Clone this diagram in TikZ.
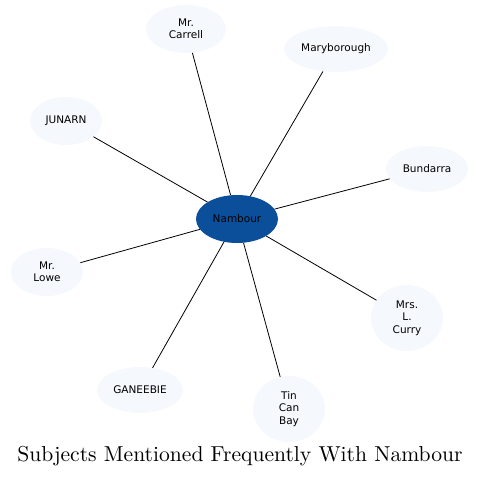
\documentclass[tikz,border=0pt]{standalone}
\usepackage{fontspec}
\newfontfamily\nodefont{DejaVu Sans}
\newfontfamily\titlefont{lmroman10-regular}[Extension=.otf]
\usetikzlibrary{shapes.geometric}
\definecolor{hubblue}{RGB}{11,78,154}
\definecolor{leaf}{RGB}{245,248,253}
\tikzset{
  bubble/.style={ellipse, fill=leaf, draw=none, inner sep=0pt, align=center,
    font=\nodefont\fontsize{10.5}{12.3}\selectfont},
  hub/.style={bubble, fill=hubblue},
  link/.style={draw=black, line width=0.8pt}
}
\begin{document}
\begin{tikzpicture}[x=1pt,y=-1pt]
\useasboundingbox (0,0) rectangle (480,478);
\node[hub, minimum width=82pt, minimum height=48pt] (nam) at (237,219) {Nambour};
\node[bubble, minimum width=80pt, minimum height=48pt] (car) at (186,29) {Mr.\\Carrell};
\node[bubble, minimum width=104pt, minimum height=46pt] (mar) at (336,49) {Maryborough};
\node[bubble, minimum width=72pt, minimum height=48pt] (jun) at (66,121) {JUNARN};
\node[bubble, minimum width=82pt, minimum height=46pt] (bun) at (427,169) {Bundarra};
\node[bubble, minimum width=72pt, minimum height=48pt] (low) at (47,272) {Mr.\\Lowe};
\node[bubble, minimum width=72pt, minimum height=66pt] (cur) at (407,318) {Mrs.\\L.\\Curry};
\node[bubble, minimum width=86pt, minimum height=46pt] (gan) at (140,390) {GANEEBIE};
\node[bubble, minimum width=72pt, minimum height=66pt] (tin) at (289,409) {Tin\\Can\\Bay};
\foreach \n in {car,mar,jun,bun,low,cur,gan,tin} \draw[link] (nam) -- (\n);
\node[font=\titlefont\fontsize{21.6}{26}\selectfont] (title) at (240,456) {Subjects Mentioned Frequently With Nambour};
\end{tikzpicture}
\end{document}
